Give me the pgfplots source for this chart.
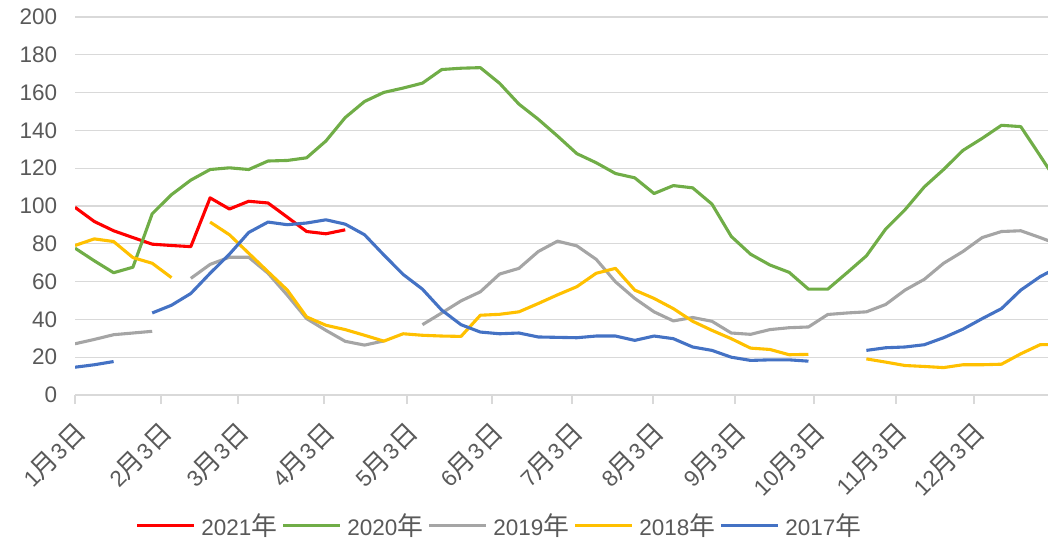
\documentclass[border=0pt]{standalone}
\usepackage{pgfplots}
\pgfplotsset{compat=1.18}
\usepackage{fontspec}
\setmainfont{Liberation Sans}
\newfontfamily\cjk[Scale=1.15]{Noto Sans CJK SC}
\definecolor{cA}{HTML}{FF0000}
\definecolor{cB}{HTML}{70AD47}
\definecolor{cC}{HTML}{A5A5A5}
\definecolor{cD}{HTML}{FFC000}
\definecolor{cE}{HTML}{4472C4}
\definecolor{gridgray}{HTML}{D9D9D9}
\definecolor{txtgray}{HTML}{595959}
\newcommand{\md}[1]{#1{\cjk 月}3{\cjk 日}}
\begin{document}
\begin{tikzpicture}
\useasboundingbox (0,0) rectangle (1048bp,540bp);
\begin{axis}[
  at={(75bp,145bp)}, anchor=south west,
  scale only axis, width=973bp, height=378bp,
  xmin=0, xmax=50.41, ymin=0, ymax=200,
  ytick={0,20,...,200},
  xtick={0,4.456,8.446,12.902,17.202,21.606,25.751,29.948,34.197,38.290,42.539,46.580},
  xticklabels={\md{1},\md{2},\md{3},\md{4},\md{5},\md{6},\md{7},\md{8},\md{9},\md{10},\md{11},\md{12}},
  axis x line*=bottom, axis y line*=left,
  x axis line style={draw=gridgray, line width=1.2bp, -},
  y axis line style={draw=none},
  xtick align=outside, major tick length=9bp,
  xtick style={draw=gridgray, line width=1.2bp},
  ytick style={draw=none},
  ymajorgrids, grid style={draw=gridgray, line width=1.2bp},
  tick label style={font=\fontsize{22.5bp}{27bp}\selectfont, text=txtgray},
  /pgf/number format/assume math mode=true,
  yticklabel style={anchor=east, inner sep=0pt, xshift=-17.7bp},
  xticklabel style={inner sep=0pt, xshift=6bp, yshift=-24bp, rotate=45, anchor=east},
  unbounded coords=jump,
  every axis plot/.append style={line width=3.1bp, line join=round},
  legend columns=-1,
  legend style={at={(0.4353,-0.345)}, anchor=center, draw=none, fill=none,
    font=\fontsize{22.5bp}{27bp}\selectfont, text=txtgray, nodes={inner sep=0pt},
    /tikz/every odd column/.append style={column sep=5.5bp},
    /tikz/every even column/.append style={column sep=4.5bp}},
  legend image code/.code={\draw[#1] (0bp,0bp) -- (57bp,0bp);},
]
% 2021
\addplot[cA] coordinates {(0,99.3)(1,91.8)(2,86.9)(3,83.3)(4,79.8)(5,79.1)(6,78.5)(7,104.3)(8,98.4)(9,102.5)(10,101.6)(11,94.1)(12,86.5)(13,85.3)(14,87.4)};
\addlegendentry{2021{\cjk 年}}
% 2020
\addplot[cB] coordinates {(0,77.7)(1,71)(2,64.7)(3,67.6)(4,95.9)(5,106)(6,113.7)(7,119.3)(8,120.2)(9,119.3)(10,123.8)(11,124.1)(12,125.5)(13,134.4)(14,146.8)(15,155.3)(16,160.1)(17,162.4)(18,165)(19,172.2)(20,172.9)(21,173.2)(22,164.9)(23,153.9)(24,145.9)(25,137)(26,127.7)(27,122.9)(28,117.2)(29,114.9)(30,106.6)(31,110.8)(32,109.6)(33,101)(34,83.9)(35,74.5)(36,68.8)(37,64.9)(38,56)(39,56)(40,64.7)(41,73.6)(42,87.8)(43,98)(44,110.1)(45,119.3)(46,129.4)(47,135.8)(48,142.7)(49,142)(50,126.6)(51,111)};
\addlegendentry{2020{\cjk 年}}
% 2019
\addplot[cC] coordinates {(0,27.1)(1,29.4)(2,31.9)(3,32.8)(4,33.7)(5,nan)(6,61.7)(7,69.1)(8,72.9)(9,72.9)(10,64.4)(11,52.8)(12,40.4)(13,34.2)(14,28.4)(15,26.4)(16,28.6)(17,nan)(18,37.2)(19,43.4)(20,49.8)(21,54.6)(22,64)(23,67)(24,75.9)(25,81.4)(26,78.9)(27,71.8)(28,59.9)(29,51.1)(30,44)(31,39.2)(32,41)(33,39)(34,32.8)(35,32.1)(36,34.6)(37,35.6)(38,36)(39,42.6)(40,43.4)(41,44)(42,47.9)(43,55.5)(44,61.2)(45,69.7)(46,75.9)(47,83.3)(48,86.5)(49,86.9)(50,83.3)(51,79.5)};
\addlegendentry{2019{\cjk 年}}
% 2018
\addplot[cD] coordinates {(0,79.1)(1,82.6)(2,81.2)(3,72.7)(4,69.7)(5,62.1)(6,nan)(7,91.5)(8,84.8)(9,75)(10,65.2)(11,55.5)(12,41.3)(13,36.9)(14,34.6)(15,31.6)(16,28.5)(17,32.4)(18,31.6)(19,31.2)(20,31)(21,42.2)(22,42.7)(23,44)(24,48.4)(25,53)(26,57.3)(27,64.4)(28,67)(29,55.5)(30,51.1)(31,45.7)(32,39)(33,34.2)(34,29.8)(35,24.8)(36,24.1)(37,21.3)(38,21.5)(39,nan)(40,nan)(41,19.1)(42,17.4)(43,15.6)(44,15.1)(45,14.5)(46,16)(47,16)(48,16.3)(49,21.8)(50,26.6)(51,26.8)};
\addlegendentry{2018{\cjk 年}}
% 2017
\addplot[cE] coordinates {(0,14.7)(1,16)(2,17.7)(3,nan)(4,43.4)(5,47.5)(6,53.7)(7,64.4)(8,74.5)(9,86)(10,91.5)(11,90.1)(12,91)(13,92.7)(14,90.4)(15,84.8)(16,74.1)(17,63.8)(18,56)(19,44.9)(20,37.2)(21,33.3)(22,32.4)(23,32.8)(24,30.7)(25,30.5)(26,30.3)(27,31.2)(28,31.2)(29,28.9)(30,31.2)(31,29.8)(32,25.4)(33,23.6)(34,20)(35,18.3)(36,18.6)(37,18.6)(38,17.9)(39,nan)(40,nan)(41,23.6)(42,25)(43,25.4)(44,26.6)(45,30.3)(46,34.8)(47,40.4)(48,45.7)(49,55.5)(50,62.6)(51,68)};
\addlegendentry{2017{\cjk 年}}
\end{axis}
\end{tikzpicture}
\end{document}
